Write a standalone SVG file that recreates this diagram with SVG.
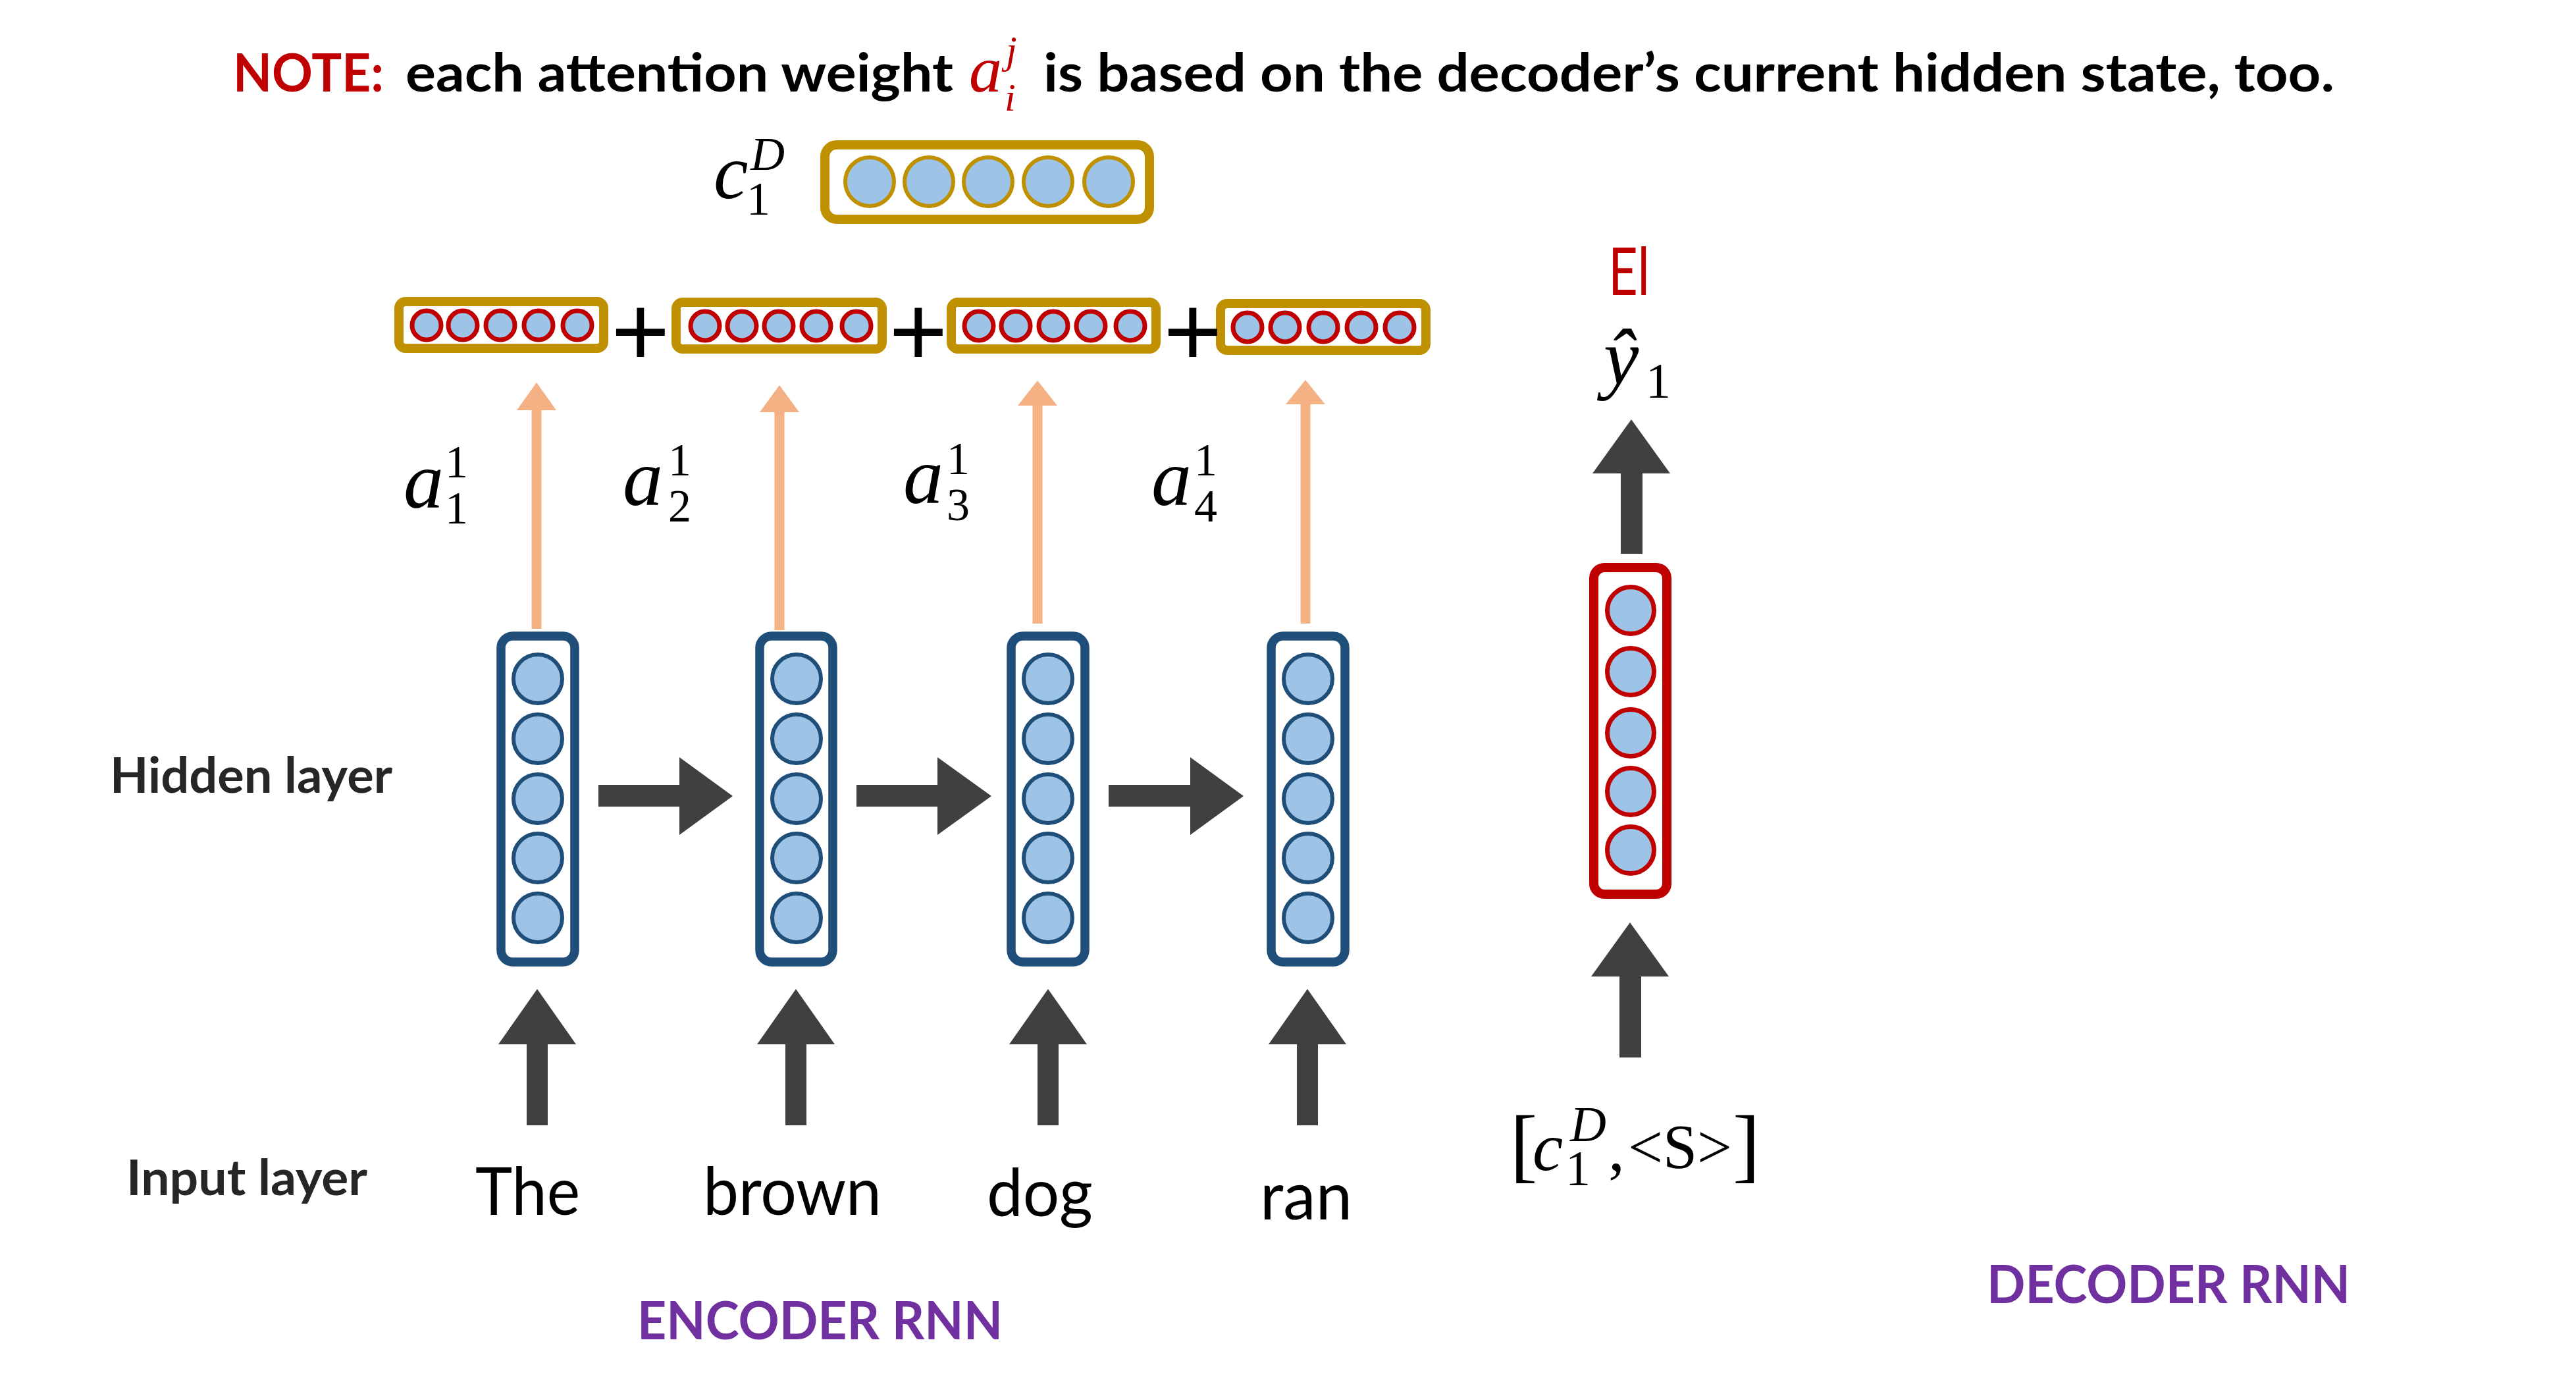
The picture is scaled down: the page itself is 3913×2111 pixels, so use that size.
<svg xmlns="http://www.w3.org/2000/svg" width="3913" height="2111" viewBox="0 0 3913 2111">
<style>
.sans{font-family:Lato,"Liberation Sans",sans-serif}
.b{font-weight:bold}
.math{font-family:"Liberation Serif","DejaVu Serif",serif;font-style:italic;fill:#000}
.mathr{font-family:"Liberation Serif","DejaVu Serif",serif;fill:#000}
.enc{fill:#fff;stroke:#1F4E79;stroke-width:13.5}
.encc{fill:#9DC3E6;stroke:#1F4E79;stroke-width:6}
.dec{fill:#fff;stroke:#C00000;stroke-width:14}
.decc{fill:#9DC3E6;stroke:#C00000;stroke-width:7}
.ctx{fill:#fff;stroke:#BF9000;stroke-width:14}
.ctxc{fill:#9DC3E6;stroke:#BF9000;stroke-width:6}
.sm{fill:#fff;stroke:#BF9000;stroke-width:14}
.smc{fill:#9DC3E6;stroke:#C00000;stroke-width:7}
.blk{fill:#404040}
.org{fill:#F4B183}
.orgl{stroke:#F4B183;stroke-width:15;fill:none}
.plus{font-family:"Liberation Sans",sans-serif;font-size:152px;fill:#000}
</style>
<rect width="3913" height="2111" fill="#fff"/>

<g id="title">
<text class="sans b" x="354" y="139" font-size="81" fill="#C00000" textLength="229" lengthAdjust="spacingAndGlyphs">NOTE:</text>
<text class="sans b" x="616" y="139" font-size="81" fill="#000" textLength="832" lengthAdjust="spacingAndGlyphs">each attention weight</text>
<text class="math" x="1472" y="139" font-size="100" style="fill:#C00000">a</text>
<text class="math" x="1528" y="96" font-size="60" style="fill:#C00000">j</text>
<text class="math" x="1526" y="168" font-size="60" style="fill:#C00000">i</text>
<text class="sans b" x="1585" y="139" font-size="81" fill="#000" textLength="1961" lengthAdjust="spacingAndGlyphs">is based on the decoder’s current hidden state, too.</text>
</g>

<g id="context-vector">
<text class="math" x="1084" y="301" font-size="118">c</text>
<text class="math" x="1140" y="258" font-size="72">D</text>
<text class="mathr" x="1134" y="326" font-size="72">1</text>
<rect class="ctx" x="1253" y="220" width="493" height="113" rx="18"/>
<circle class="ctxc" cx="1321" cy="276" r="37"/>
<circle class="ctxc" cx="1411" cy="276" r="37"/>
<circle class="ctxc" cx="1501" cy="276" r="37"/>
<circle class="ctxc" cx="1592" cy="276" r="37"/>
<circle class="ctxc" cx="1684" cy="276" r="37"/>
</g>

<g id="weighted-1">
<rect class="sm" x="606" y="458" width="311" height="71" rx="10"/>
<circle class="smc" cx="648" cy="494" r="22"/>
<circle class="smc" cx="703" cy="494" r="22"/>
<circle class="smc" cx="760" cy="494" r="22"/>
<circle class="smc" cx="818" cy="494" r="22"/>
<circle class="smc" cx="877" cy="494" r="22"/>
</g>
<g id="weighted-2">
<rect class="sm" x="1027" y="459" width="313" height="71" rx="10"/>
<circle class="smc" cx="1071" cy="495" r="22"/>
<circle class="smc" cx="1127" cy="495" r="22"/>
<circle class="smc" cx="1183" cy="495" r="22"/>
<circle class="smc" cx="1240" cy="495" r="22"/>
<circle class="smc" cx="1301" cy="495" r="22"/>
</g>
<g id="weighted-3">
<rect class="sm" x="1445" y="459" width="311" height="71" rx="10"/>
<circle class="smc" cx="1487" cy="495" r="22"/>
<circle class="smc" cx="1543" cy="495" r="22"/>
<circle class="smc" cx="1600" cy="495" r="22"/>
<circle class="smc" cx="1657" cy="495" r="22"/>
<circle class="smc" cx="1717" cy="495" r="22"/>
</g>
<g id="weighted-4">
<rect class="sm" x="1854" y="461" width="312" height="71" rx="10"/>
<circle class="smc" cx="1895" cy="497" r="22"/>
<circle class="smc" cx="1952" cy="497" r="22"/>
<circle class="smc" cx="2010" cy="497" r="22"/>
<circle class="smc" cx="2068" cy="497" r="22"/>
<circle class="smc" cx="2126" cy="497" r="22"/>
</g>
<g id="plus-signs">
<text class="plus" x="973" y="555" text-anchor="middle">+</text>
<text class="plus" x="1395" y="555" text-anchor="middle">+</text>
<text class="plus" x="1812" y="555" text-anchor="middle">+</text>
</g>

<g id="weights">
<text class="math" x="613" y="771" font-size="122">a</text>
<text class="mathr" x="676" y="725" font-size="70">1</text>
<text class="mathr" x="676" y="795" font-size="70">1</text>
<text class="math" x="946" y="767" font-size="122">a</text>
<text class="mathr" x="1015" y="722" font-size="70">1</text>
<text class="mathr" x="1015" y="792" font-size="70">2</text>
<text class="math" x="1372" y="764" font-size="122">a</text>
<text class="mathr" x="1438" y="720" font-size="70">1</text>
<text class="mathr" x="1438" y="790" font-size="70">3</text>
<text class="math" x="1749" y="767" font-size="122">a</text>
<text class="mathr" x="1814" y="722" font-size="70">1</text>
<text class="mathr" x="1814" y="792" font-size="70">4</text>
</g>

<g id="hidden-1">
<rect class="enc" x="761" y="966" width="112" height="495" rx="18"/>
<circle class="encc" cx="817" cy="1031" r="37"/>
<circle class="encc" cx="817" cy="1122" r="37"/>
<circle class="encc" cx="817" cy="1213" r="37"/>
<circle class="encc" cx="817" cy="1303" r="37"/>
<circle class="encc" cx="817" cy="1394" r="37"/>
</g>
<g id="hidden-2">
<rect class="enc" x="1154" y="966" width="111" height="495" rx="18"/>
<circle class="encc" cx="1210" cy="1031" r="37"/>
<circle class="encc" cx="1210" cy="1122" r="37"/>
<circle class="encc" cx="1210" cy="1213" r="37"/>
<circle class="encc" cx="1210" cy="1303" r="37"/>
<circle class="encc" cx="1210" cy="1394" r="37"/>
</g>
<g id="hidden-3">
<rect class="enc" x="1536" y="966" width="112" height="495" rx="18"/>
<circle class="encc" cx="1592" cy="1031" r="37"/>
<circle class="encc" cx="1592" cy="1122" r="37"/>
<circle class="encc" cx="1592" cy="1213" r="37"/>
<circle class="encc" cx="1592" cy="1303" r="37"/>
<circle class="encc" cx="1592" cy="1394" r="37"/>
</g>
<g id="hidden-4">
<rect class="enc" x="1931" y="966" width="112" height="495" rx="18"/>
<circle class="encc" cx="1987" cy="1031" r="37"/>
<circle class="encc" cx="1987" cy="1122" r="37"/>
<circle class="encc" cx="1987" cy="1213" r="37"/>
<circle class="encc" cx="1987" cy="1303" r="37"/>
<circle class="encc" cx="1987" cy="1394" r="37"/>
</g>

<g id="decoder-hidden">
<rect class="dec" x="2421" y="862" width="111" height="496" rx="16"/>
<circle class="decc" cx="2477" cy="927" r="35.5"/>
<circle class="decc" cx="2477" cy="1020" r="35.5"/>
<circle class="decc" cx="2477" cy="1113" r="35.5"/>
<circle class="decc" cx="2477" cy="1202" r="35.5"/>
<circle class="decc" cx="2477" cy="1291" r="35.5"/>
</g>

<g id="connectors">
<line class="orgl" x1="815" y1="955" x2="815" y2="620"/>
<polygon class="org" points="815,581 845,623 785,623"/>
<line class="orgl" x1="1184" y1="957" x2="1184" y2="623"/>
<polygon class="org" points="1184,585 1214,626 1154,626"/>
<line class="orgl" x1="1576" y1="947" x2="1576" y2="613"/>
<polygon class="org" points="1576,578 1606,616 1546,616"/>
<line class="orgl" x1="1983" y1="947" x2="1983" y2="611"/>
<polygon class="org" points="1983,577 2013,614 1953,614"/>

<polygon class="blk" points="909,1192 1032,1192 1032,1150 1113,1209 1032,1268 1032,1225 909,1225"/>
<polygon class="blk" points="1301,1192 1424,1192 1424,1150 1506,1209 1424,1268 1424,1225 1301,1225"/>
<polygon class="blk" points="1684,1192 1808,1192 1808,1150 1889,1209 1808,1268 1808,1225 1684,1225"/>

<polygon class="blk" points="800,1709 800,1586 757,1586 816,1502 875,1586 832,1586 832,1709"/>
<polygon class="blk" points="1193,1709 1193,1586 1150,1586 1209,1502 1268,1586 1225,1586 1225,1709"/>
<polygon class="blk" points="1576,1709 1576,1586 1533,1586 1592,1502 1651,1586 1608,1586 1608,1709"/>
<polygon class="blk" points="1970,1709 1970,1586 1927,1586 1986,1502 2045,1586 2002,1586 2002,1709"/>

<polygon class="blk" points="2460,1606 2460,1483 2417,1483 2476,1401 2535,1483 2493,1483 2493,1606"/>
<polygon class="blk" points="2462,841 2462,719 2419,719 2478,637 2537,719 2495,719 2495,841"/>
</g>

<g id="labels">
<text class="sans b" x="167" y="1204" font-size="75" fill="#262626" textLength="429" lengthAdjust="spacingAndGlyphs">Hidden layer</text>
<text class="sans b" x="192" y="1815" font-size="75" fill="#262626" textLength="366" lengthAdjust="spacingAndGlyphs">Input layer</text>
<text class="sans" x="722" y="1845" font-size="100" fill="#000" textLength="159" lengthAdjust="spacingAndGlyphs">The</text>
<text class="sans" x="1068" y="1845" font-size="100" fill="#000" textLength="271" lengthAdjust="spacingAndGlyphs">brown</text>
<text class="sans" x="1499" y="1847" font-size="100" fill="#000" textLength="161" lengthAdjust="spacingAndGlyphs">dog</text>
<text class="sans" x="1914" y="1852" font-size="100" fill="#000" textLength="140" lengthAdjust="spacingAndGlyphs">ran</text>
<text class="sans b" x="968" y="2034" font-size="81" fill="#7030A0" textLength="555" lengthAdjust="spacingAndGlyphs">ENCODER RNN</text>
<text class="sans b" x="3018" y="1979" font-size="81" fill="#7030A0" textLength="552" lengthAdjust="spacingAndGlyphs">DECODER RNN</text>
<text class="sans" x="2443" y="448" font-size="100" fill="#C00000" textLength="63" lengthAdjust="spacingAndGlyphs">El</text>
</g>

<g id="output-label">
<text class="math" x="2436" y="583" font-size="120">ŷ</text>
<text class="mathr" x="2500" y="604" font-size="76">1</text>
</g>

<g id="decoder-input-label">
<text class="mathr" x="2294" y="1780" font-size="124">[</text>
<text class="math" x="2328" y="1777" font-size="104">c</text>
<text class="math" x="2385" y="1733" font-size="76">D</text>
<text class="mathr" x="2378" y="1800" font-size="76">1</text>
<text class="mathr" x="2443" y="1777" font-size="100">,</text>
<text class="mathr" x="2473" y="1774" font-size="96" textLength="158" lengthAdjust="spacingAndGlyphs">&lt;S&gt;</text>
<text class="mathr" x="2632" y="1780" font-size="124">]</text>
</g>
</svg>
